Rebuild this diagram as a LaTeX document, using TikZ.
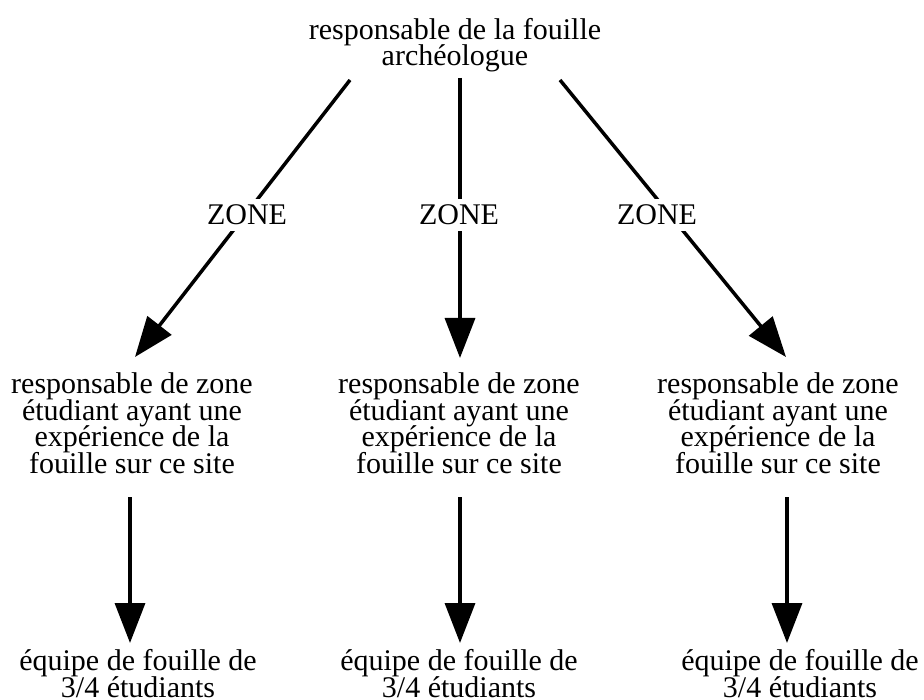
\documentclass[tikz,border=0pt]{standalone}
\usepackage{fontspec}
\setmainfont{Liberation Serif}
\usetikzlibrary{arrows.meta}
\begin{document}
\begin{tikzpicture}[x=1pt,y=-1pt,
  lbl/.style={inner sep=0pt, align=center, anchor=base, font={\fontsize{30}{26.5}\selectfont\lineskiplimit=-30pt\lineskip=0pt}},
  conn/.style={line width=3.5pt, -{Triangle[length=40pt,width=30pt]}}]
\useasboundingbox (0,0) rectangle (924,700);
\node[lbl] (top) at (455,66) {responsable de la fouille\\archéologue};
\node[lbl] (z1) at (247,225) {ZONE};
\node[lbl] (z2) at (459,225) {ZONE};
\node[lbl] (z3) at (657,225) {ZONE};
\node[lbl] (m1) at (132,473) {responsable de zone\\étudiant ayant une\\expérience de la\\fouille sur ce site};
\node[lbl] (m2) at (459,473) {responsable de zone\\étudiant ayant une\\expérience de la\\fouille sur ce site};
\node[lbl] (m3) at (778,473) {responsable de zone\\étudiant ayant une\\expérience de la\\fouille sur ce site};
\node[lbl] (b1) at (138,697) {équipe de fouille de\\3/4 étudiants};
\node[lbl] (b2) at (459,697) {équipe de fouille de\\3/4 étudiants};
\node[lbl] (b3) at (800,697) {équipe de fouille de\\3/4 étudiants};
\coordinate (s1) at (350,80);
\coordinate (s2) at (460,78);
\coordinate (s3) at (560,80);
\coordinate (t1) at (135,357);
\coordinate (t2) at (460,358);
\coordinate (t3) at (786,357);
\coordinate (v1) at (130,497);
\coordinate (v2) at (460,497);
\coordinate (v3) at (787,497);
\coordinate (w1) at (130,643);
\coordinate (w2) at (460,643);
\coordinate (w3) at (787,643);
\draw[conn] (s1) -- (t1);
\draw[conn] (s2) -- (t2);
\draw[conn] (s3) -- (t3);
\draw[conn] (v1) -- (w1);
\draw[conn] (v2) -- (w2);
\draw[conn] (v3) -- (w3);
\fill[white] (z1.south west) ++(-4,6) rectangle ([shift={(4,-6)}]z1.north east);
\node[lbl] at (z1.base) {ZONE};
\fill[white] (z2.south west) ++(-4,6) rectangle ([shift={(4,-6)}]z2.north east);
\node[lbl] at (z2.base) {ZONE};
\fill[white] (z3.south west) ++(-4,6) rectangle ([shift={(4,-6)}]z3.north east);
\node[lbl] at (z3.base) {ZONE};
\end{tikzpicture}
\end{document}
